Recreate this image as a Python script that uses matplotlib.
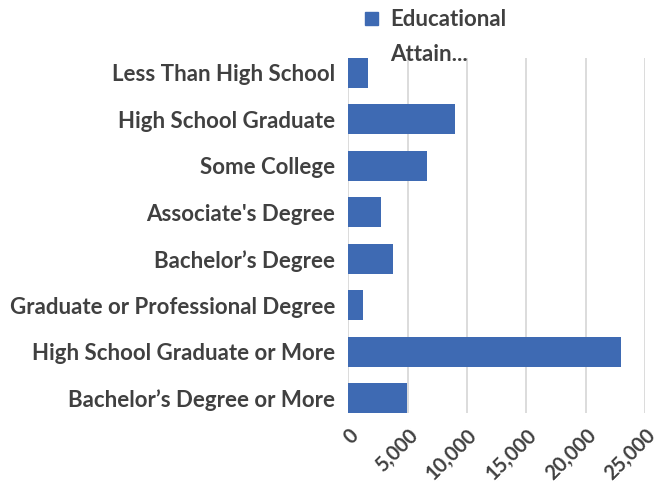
import numpy as np
import matplotlib.pyplot as plt
from matplotlib.patches import Patch

categories = ['Less Than High School', 'High School Graduate', 'Some College',
              "Associate's Degree", 'Bachelor\u2019s Degree',
              'Graduate or Professional Degree', 'High School Graduate or More',
              'Bachelor\u2019s Degree or More']
values = [1650, 9000, 6650, 2750, 3750, 1250, 23000, 4950]
xticks = [0, 5000, 10000, 15000, 20000, 25000]

plt.rcParams['font.family'] = ['Lato', 'DejaVu Sans']
plt.rcParams['font.weight'] = 'bold'
txt = '#404040'
blue = '#3E6AB3'

fig = plt.figure(figsize=(6.55, 4.87), dpi=100)
ax = fig.add_axes([0.532, 0.152, 0.453, 0.729])

h = 0.645
y = np.arange(len(categories))
ax.barh(y, values, height=h, color=blue, zorder=3)
ax.set_ylim(len(categories) - 1 + h / 2, -h / 2)
ax.set_xlim(0, 25000)

ax.set_yticks(y)
ax.set_yticklabels(categories, fontsize=16, color=txt, fontweight='bold')
ax.set_xticks(xticks)
ax.set_xticklabels([f'{v:,}' for v in xticks], rotation=45, ha='right', va='top',
                   rotation_mode='anchor', fontsize=14.5, color=txt, fontweight='bold')
ax.tick_params(axis='y', length=0, pad=9.5)
ax.tick_params(axis='x', length=0, pad=9)
ax.grid(axis='x', color='#d9d9d9', lw=1.3, zorder=0)
for s in ax.spines.values():
    s.set_visible(False)

ax.legend(handles=[Patch(color=blue)], labels=['Educational'], loc='lower left',
          bbox_to_anchor=(0.541, 0.915), bbox_transform=fig.transFigure,
          frameon=False, prop={'size': 16, 'weight': 'bold'}, labelcolor=txt,
          handlelength=0.55, handleheight=0.55, handletextpad=0.55, borderpad=0)
fig.text(0.595, 0.875, 'Attain...', fontsize=16, color=txt, fontweight='bold',
         va='baseline')

fig.savefig('out.png', dpi=100)
